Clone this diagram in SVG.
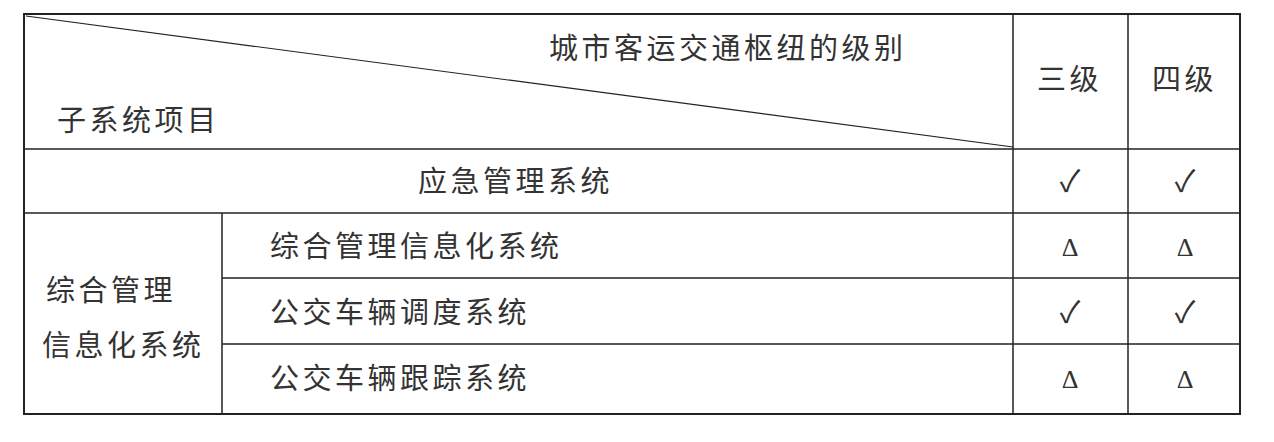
<svg xmlns="http://www.w3.org/2000/svg" width="1274" height="442" viewBox="0 0 1274 442">
<style>
.l{stroke:#222;stroke-width:1.5;fill:none}
.t{font-family:"Noto Sans CJK SC","Liberation Serif",serif;font-size:29px;letter-spacing:3.5px;fill:#333}
.c{font-family:"Noto Sans CJK SC",sans-serif;font-size:30px;fill:#333;text-anchor:middle}
.d{font-family:"Liberation Serif",serif;font-size:26px;fill:#333;text-anchor:middle}
</style>
<rect width="1274" height="442" fill="#fff"/>
<g id="grid">
<rect class="l" x="24" y="14" width="1216" height="400" style="stroke-width:2"/>
<line class="l" x1="1013" y1="14" x2="1013" y2="414"/>
<line class="l" x1="1128" y1="14" x2="1128" y2="414"/>
<line class="l" x1="24" y1="149" x2="1240" y2="149"/>
<line class="l" x1="24" y1="213" x2="1240" y2="213"/>
<line class="l" x1="222" y1="278" x2="1240" y2="278"/>
<line class="l" x1="222" y1="344" x2="1240" y2="344"/>
<line class="l" x1="222" y1="213" x2="222" y2="414"/>
<line class="l" x1="26" y1="16" x2="1013" y2="147" style="stroke-width:1.2"/>
</g>
<g id="text">
<text class="t" x="549" y="59">城市客运交通枢纽的级别</text>
<text class="t" x="57" y="131">子系统项目</text>
<text class="t" x="1037" y="90">三级</text>
<text class="t" x="1152" y="90">四级</text>
<text class="t" x="418" y="192">应急管理系统</text>
<text class="t" x="270" y="257">综合管理信息化系统</text>
<text class="t" x="270" y="323">公交车辆调度系统</text>
<text class="t" x="270" y="389">公交车辆跟踪系统</text>
<text class="t" x="46" y="301">综合管理</text>
<text class="t" x="42" y="356">信息化系统</text>
<text class="c" x="1070" y="192">✓</text><text class="c" x="1185" y="192">✓</text>
<text class="d" x="1070" y="256">Δ</text><text class="d" x="1185" y="256">Δ</text>
<text class="c" x="1070" y="323">✓</text><text class="c" x="1185" y="323">✓</text>
<text class="d" x="1070" y="388">Δ</text><text class="d" x="1185" y="388">Δ</text>
</g>
</svg>
